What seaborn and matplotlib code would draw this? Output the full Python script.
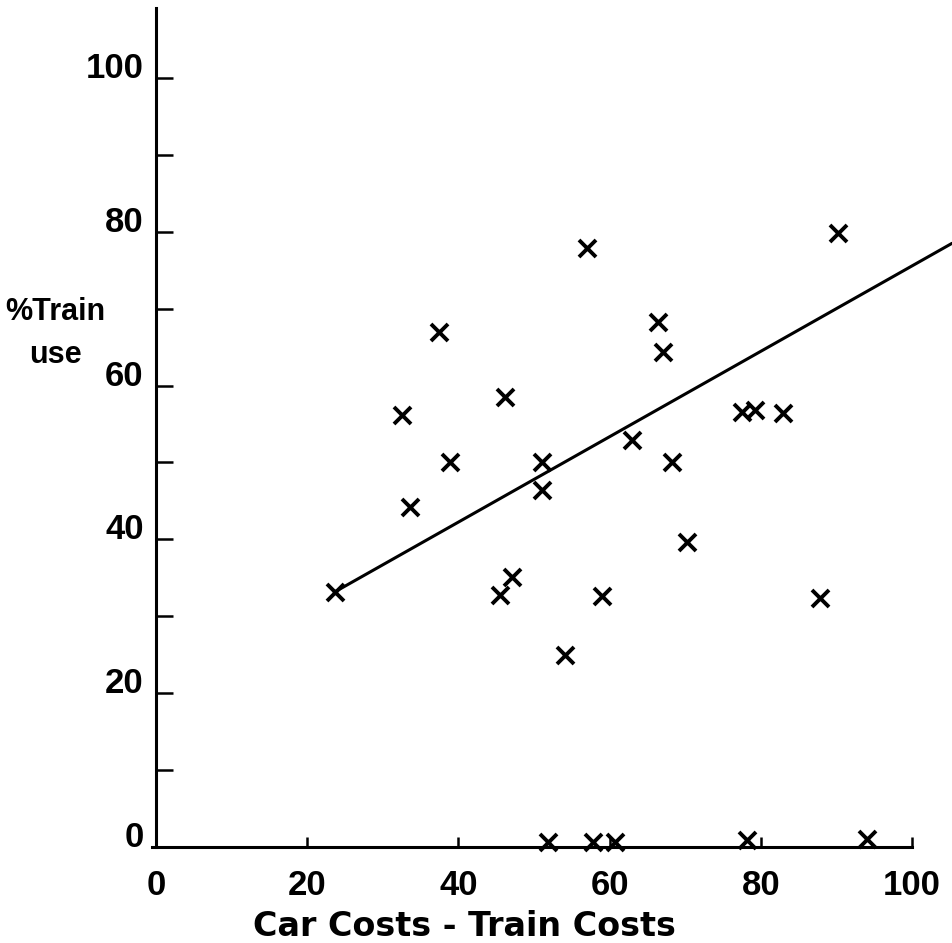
import matplotlib.pyplot as plt
import seaborn as sns
import pandas as pd
from matplotlib.ticker import MultipleLocator

sns.set_theme(style='white')
plt.rcParams['font.family'] = ['Liberation Sans', 'DejaVu Sans']
plt.rcParams['text.color'] = 'black'
plt.rcParams['xtick.color'] = 'black'
plt.rcParams['ytick.color'] = 'black'
plt.rcParams['axes.labelcolor'] = 'black'

# values
cost_diff = [23.7, 32.5, 33.6, 37.4, 38.9, 45.5, 46.2, 47.1, 51.0, 51.1,
             54.1, 57.0, 59.0, 63.0, 66.4, 67.1, 68.3, 70.2, 77.5, 79.2,
             82.9, 87.8, 90.2,
             51.9, 57.8, 60.7, 78.2, 94.0]
train_use = [33.2, 56.2, 44.2, 67.0, 50.1, 32.8, 58.5, 35.1, 50.1, 46.4,
             25.0, 77.9, 32.6, 52.9, 68.3, 64.4, 50.1, 39.7, 56.6, 56.8,
             56.4, 32.4, 79.8,
             0.6, 0.7, 0.7, 0.9, 1.1]

# hand drawn trend line
fit_x = [23.7, 105.3]
fit_y = [33.2, 78.5]

x_ticks = [0, 20, 40, 60, 80, 100]
y_ticks = [0, 20, 40, 60, 80, 100]

points = pd.DataFrame({'cost': cost_diff, 'use': train_use})
trend = pd.DataFrame({'cost': fit_x, 'use': fit_y})

fig = plt.figure(figsize=(9.52, 9.43), dpi=100)
ax = fig.add_axes([0.1639, 0.1018, 0.8361, 0.8897])

sns.lineplot(data=trend, x='cost', y='use', color='black', linewidth=2.2, ax=ax)
sns.scatterplot(data=points, x='cost', y='use', marker='x', s=150, color='black',
                linewidth=2.8, ax=ax, clip_on=False, zorder=3)

ax.set_xlim(0, 105.3)
ax.set_ylim(0, 109.1)
ax.set_xticks(x_ticks)
ax.set_yticks(y_ticks)
ax.yaxis.set_minor_locator(MultipleLocator(10))

for side in ['top', 'right']:
    ax.spines[side].set_visible(False)
for side in ['left', 'bottom']:
    ax.spines[side].set_linewidth(2.2)
    ax.spines[side].set_color('black')
ax.spines['bottom'].set_bounds(-0.5, 100)

ax.tick_params(axis='y', which='both', direction='in', length=12, width=1.8,
               color='black', pad=9, labelsize=25, left=True)
ax.tick_params(axis='x', which='both', direction='in', length=7, width=1.8,
               color='black', pad=16, labelsize=25, bottom=True)
for lab in ax.get_yticklabels():
    lab.set_fontweight('bold')
    lab.set_va('baseline')
for lab in ax.get_xticklabels():
    lab.set_fontweight('bold')

ax.set_xlabel('Car Costs - Train Costs', fontsize=24, fontweight='bold',
              family=['DejaVu Sans'])
ax.xaxis.set_label_coords(0.387, -0.0755)
ax.set_ylabel('%Train\nuse', fontsize=22, fontweight='bold', rotation=0,
              ha='center', va='center', linespacing=1.6)
ax.yaxis.set_label_coords(-0.127, 0.612)

fig.savefig('out.png', dpi=100, facecolor='white')
